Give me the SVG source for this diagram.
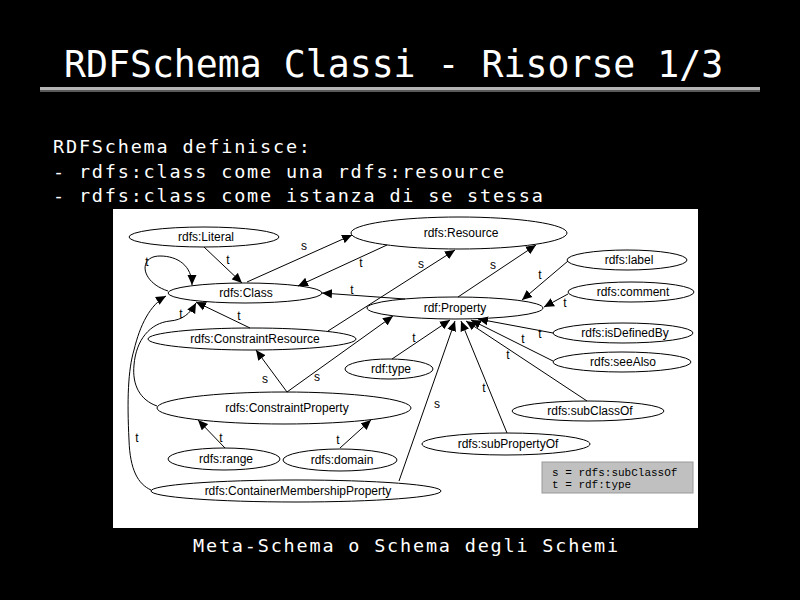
<svg xmlns="http://www.w3.org/2000/svg" width="800" height="600" viewBox="0 0 800 600">
<defs>
<style>
.head{font-family:"DejaVu Sans Mono",monospace;fill:#fff}
.body{font-family:"DejaVu Sans Mono",monospace;fill:#fff;font-size:18.5px;letter-spacing:1.8px}
.node ellipse{fill:#fff;stroke:#000;stroke-width:1}
.node text{font-family:"Liberation Sans",Arial,sans-serif;font-size:12px;text-anchor:middle;fill:#000}
.edge{fill:none;stroke:#000;stroke-width:1;marker-end:url(#arr)}
.lbl{font-family:"Liberation Sans",Arial,sans-serif;font-size:12px;text-anchor:middle;fill:#000}
.leg{font-family:"Liberation Mono","Courier New",monospace;font-size:11px;fill:#000}
</style>
<marker id="arr" viewBox="0 0 10 10" refX="10" refY="5" markerWidth="10" markerHeight="10" markerUnits="userSpaceOnUse" orient="auto">
<path d="M0,0.5 L10,5 L0,9.5 z" fill="#000"/>
</marker>
</defs>
<rect x="0" y="0" width="800" height="600" fill="#000"/>
<text class="head" x="64" y="77" font-size="36.5">RDFSchema Classi - Risorse 1/3</text>
<rect x="40" y="87" width="720" height="3" fill="#b4b4b4"/>
<rect x="40" y="90" width="720" height="2" fill="#5a5a5a"/>
<text class="body" x="53" y="153">RDFSchema definisce:</text>
<text class="body" x="53" y="177.5">- rdfs:class come una rdfs:resource</text>
<text class="body" x="53" y="202">- rdfs:class come istanza di se stessa</text>
<text class="body" x="193" y="552">Meta-Schema o Schema degli Schemi</text>

<rect x="113" y="209" width="585" height="319" fill="#fff"/>

<g id="nodes">
<g id="n-literal" class="node"><ellipse cx="204" cy="237" rx="75" ry="10"/><text x="206" y="241">rdfs:Literal</text></g>
<g id="n-resource" class="node"><ellipse cx="459" cy="233" rx="108" ry="16"/><text x="461" y="237">rdfs:Resource</text></g>
<g id="n-class" class="node"><ellipse cx="245" cy="293" rx="77" ry="10"/><text x="246" y="297">rdfs:Class</text></g>
<g id="n-property" class="node"><ellipse cx="455" cy="308" rx="88" ry="11"/><text x="455" y="312">rdf:Property</text></g>
<g id="n-label" class="node"><ellipse cx="627" cy="260" rx="60" ry="10"/><text x="629" y="264">rdfs:label</text></g>
<g id="n-comment" class="node"><ellipse cx="631" cy="292" rx="63" ry="10"/><text x="633" y="296">rdfs:comment</text></g>
<g id="n-isdefinedby" class="node"><ellipse cx="623" cy="333" rx="70" ry="10"/><text x="625" y="337">rdfs:isDefinedBy</text></g>
<g id="n-seealso" class="node"><ellipse cx="622" cy="362" rx="69" ry="10"/><text x="623" y="366">rdfs:seeAlso</text></g>
<g id="n-constraintresource" class="node"><ellipse cx="252" cy="339" rx="104" ry="11"/><text x="255" y="343">rdfs:ConstraintResource</text></g>
<g id="n-type" class="node"><ellipse cx="389" cy="369" rx="44" ry="10"/><text x="391" y="373">rdf:type</text></g>
<g id="n-constraintproperty" class="node"><ellipse cx="284" cy="408" rx="127" ry="16"/><text x="287" y="412">rdfs:ConstraintProperty</text></g>
<g id="n-subclassof" class="node"><ellipse cx="588" cy="411" rx="76" ry="10"/><text x="590" y="415">rdfs:subClassOf</text></g>
<g id="n-subpropertyof" class="node"><ellipse cx="506" cy="444" rx="84" ry="11"/><text x="508" y="448">rdfs:subPropertyOf</text></g>
<g id="n-range" class="node"><ellipse cx="224" cy="459" rx="56" ry="11"/><text x="226" y="463">rdfs:range</text></g>
<g id="n-domain" class="node"><ellipse cx="340" cy="460" rx="57" ry="11"/><text x="342" y="464">rdfs:domain</text></g>
<g id="n-container" class="node"><ellipse cx="296" cy="491" rx="145" ry="11"/><text x="298" y="495">rdfs:ContainerMembershipProperty</text></g>
</g>

<g id="connectors">
<path class="edge" d="M204,247 L242,283"/>
<path class="edge" d="M168,291 C140,282 138,256 160,256 C178,256 192,266 192,285"/>
<path class="edge" d="M247,282 L352,235"/>
<path class="edge" d="M387,245 L298,286"/>
<path class="edge" d="M405,299 L322,293"/>
<path class="edge" d="M328,331 L455,250"/>
<path class="edge" d="M458,297 L536,245"/>
<path class="edge" d="M568,261 L522,300"/>
<path class="edge" d="M568,294 L544,307"/>
<path class="edge" d="M553,333 L478,319"/>
<path class="edge" d="M553,361 L471,320"/>
<path class="edge" d="M587,401 L466,321"/>
<path class="edge" d="M507,433 L461,321"/>
<path class="edge" d="M399,481 L455,321"/>
<path class="edge" d="M392,359 L450,320"/>
<path class="edge" d="M287,392 L393,316"/>
<path class="edge" d="M287,392 L256,350"/>
<path class="edge" d="M250,328 L196,302"/>
<path class="edge" d="M157,406 C140,400 132,385 134,365 C136,340 150,323 170,321 C182,320 190,314 196,303"/>
<path class="edge" d="M151,490 C138,484 130,470 129,440 C127,400 128,370 134,350 C140,325 150,305 166,296"/>
<path class="edge" d="M225,448 L198,420"/>
<path class="edge" d="M340,448 L371,420"/>
<g id="edge-labels">
<text class="lbl" x="228" y="264">t</text>
<text class="lbl" x="147" y="266">t</text>
<text class="lbl" x="304" y="250">s</text>
<text class="lbl" x="361" y="267">t</text>
<text class="lbl" x="352" y="294">t</text>
<text class="lbl" x="421" y="268">s</text>
<text class="lbl" x="493" y="269">s</text>
<text class="lbl" x="540" y="279">t</text>
<text class="lbl" x="565" y="307">t</text>
<text class="lbl" x="540" y="338">t</text>
<text class="lbl" x="523" y="343">t</text>
<text class="lbl" x="508" y="359">t</text>
<text class="lbl" x="484" y="392">t</text>
<text class="lbl" x="437" y="408">s</text>
<text class="lbl" x="414" y="342">t</text>
<text class="lbl" x="317" y="381">s</text>
<text class="lbl" x="265" y="383">s</text>
<text class="lbl" x="239" y="320">t</text>
<text class="lbl" x="181" y="318">t</text>
<text class="lbl" x="137" y="442">t</text>
<text class="lbl" x="221" y="442">t</text>
<text class="lbl" x="338" y="444">t</text>
</g>
</g>

<g id="legend">
<rect x="542" y="462" width="151" height="31" fill="#c0c0c0" stroke="#999" stroke-width="1"/>
<text class="leg" x="552" y="476">s = rdfs:subClassOf</text>
<text class="leg" x="552" y="488">t = rdf:type</text>
</g>
</svg>
